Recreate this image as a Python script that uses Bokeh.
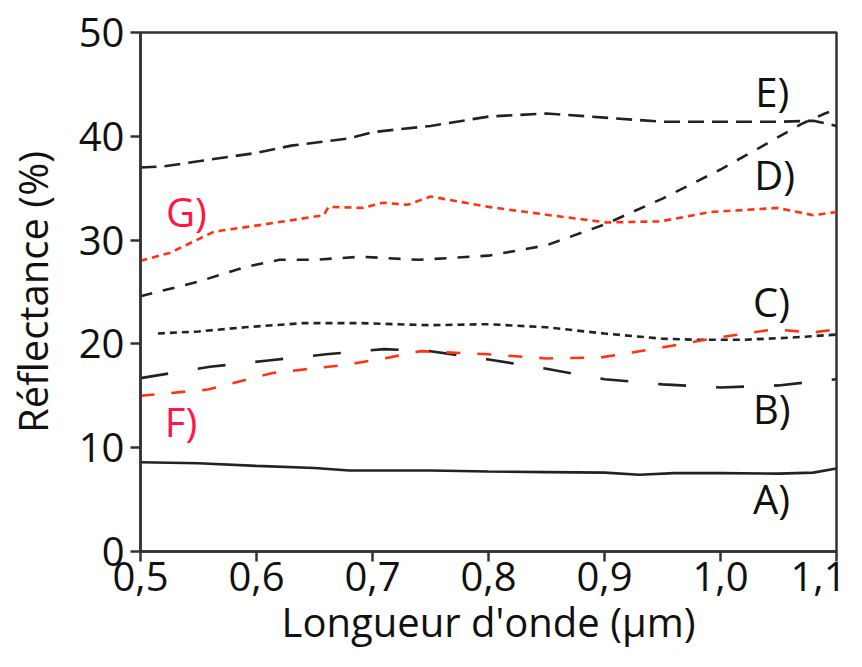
from bokeh.plotting import figure
from bokeh.models import Range1d, FixedTicker
from bokeh.core.properties import value
from bokeh.embed import file_html
from bokeh.resources import INLINE

FONT = "Open Sans"

# ---- data (wavelength in µm, reflectance in %) ----
A_x = [0.5, 0.55, 0.6, 0.65, 0.68, 0.75, 0.8, 0.85, 0.9, 0.93, 0.96, 1.0, 1.05, 1.08, 1.1]
A_y = [8.6, 8.5, 8.25, 8.05, 7.8, 7.8, 7.7, 7.65, 7.6, 7.4, 7.55, 7.55, 7.5, 7.6, 8.0]

B_x = [0.5, 0.56, 0.61, 0.66, 0.71, 0.75, 0.8, 0.85, 0.9, 0.95, 1.0, 1.05, 1.1]
B_y = [16.7, 17.8, 18.4, 19.0, 19.5, 19.3, 18.5, 17.6, 16.6, 16.1, 15.8, 16.0, 16.6]

C_x = [0.515, 0.55, 0.59, 0.64, 0.69, 0.75, 0.8, 0.85, 0.9, 0.95, 0.98, 1.02, 1.06, 1.1]
C_y = [21.0, 21.2, 21.6, 22.0, 22.0, 21.8, 21.9, 21.6, 21.0, 20.5, 20.4, 20.4, 20.6, 20.9]

D_x = [0.5, 0.55, 0.59, 0.62, 0.65, 0.69, 0.74, 0.8, 0.85, 0.9, 0.95, 1.0, 1.04, 1.07, 1.09, 1.1]
D_y = [24.6, 26.0, 27.4, 28.1, 28.1, 28.4, 28.1, 28.5, 29.5, 31.5, 34.0, 36.8, 39.3, 41.2, 42.2, 42.6]

E_x = [0.5, 0.52, 0.55, 0.6, 0.63, 0.68, 0.7, 0.75, 0.8, 0.85, 0.9, 0.95, 1.0, 1.05, 1.08, 1.1]
E_y = [37.0, 37.1, 37.6, 38.4, 39.1, 39.8, 40.4, 41.0, 41.9, 42.2, 41.8, 41.4, 41.4, 41.4, 41.5, 41.0]

F_x = [0.5, 0.558, 0.586, 0.614, 0.678, 0.715, 0.741, 0.8, 0.85, 0.897, 0.925, 0.957, 0.997, 1.046, 1.08, 1.1]
F_y = [15.0, 15.6, 16.4, 17.2, 18.0, 18.7, 19.3, 19.0, 18.6, 18.7, 19.2, 19.8, 20.6, 21.4, 21.1, 21.4]

G_x = [0.5, 0.526, 0.563, 0.606, 0.658, 0.662, 0.692, 0.709, 0.73, 0.75, 0.8, 0.853, 0.902, 0.948, 0.991, 1.049, 1.08, 1.1]
G_y = [28.0, 28.8, 30.8, 31.5, 32.4, 33.2, 33.1, 33.6, 33.4, 34.2, 33.2, 32.4, 31.7, 31.8, 32.7, 33.1, 32.4, 32.7]

x_ticks = [0.5, 0.6, 0.7, 0.8, 0.9, 1.0, 1.1]
x_tick_labels = ["0,5", "0,6", "0,7", "0,8", "0,9", "1,0", "1,1"]
y_ticks = [0, 10, 20, 30, 40, 50]

label_text = ["E)", "D)", "C)", "B)", "A)", "G)", "F)"]
label_x = [1.030, 1.029, 1.028, 1.028, 1.028, 0.522, 0.521]
label_y = [44.3, 36.3, 24.1, 13.8, 5.1, 32.8, 12.5]
label_color = ["#111111"] * 5 + ["#ff1744", "#ff1744"]

BLACK = "#222222"
RED = "#ff3311"

p = figure(width=846, height=651, output_backend="svg", toolbar_location=None,
           x_range=Range1d(0.5, 1.1), y_range=Range1d(0, 50),
           min_border_left=140, min_border_right=10, min_border_top=32,
           min_border_bottom=98)

p.xgrid.visible = False
p.ygrid.visible = False
p.outline_line_color = "#333333"
p.outline_line_width = 2.5
p.background_fill_color = "white"
p.border_fill_color = "white"

# series
p.line(A_x, A_y, line_color=BLACK, line_width=2.6)
p.line(B_x, B_y, line_color=BLACK, line_width=2.6, line_dash="28 30")
p.line(C_x, C_y, line_color=BLACK, line_width=2.6, line_dash="7 5")
p.line(D_x, D_y, line_color=BLACK, line_width=2.6, line_dash="12 11")
p.line(E_x, E_y, line_color=BLACK, line_width=2.6, line_dash="16 8")
p.line(F_x, F_y, line_color=RED, line_width=2.6, line_dash="14 17")
p.line(G_x, G_y, line_color=RED, line_width=2.6, line_dash="7 5")

p.text(x=label_x, y=label_y, text=label_text, text_color=label_color,
       text_font=value(FONT), text_font_size="40px",
       text_align="left", text_baseline="alphabetic")

# axes
for ax in (p.xaxis[0], p.yaxis[0]):
    ax.axis_line_color = "#333333"
    ax.axis_line_width = 2.5
    ax.major_tick_line_color = "#333333"
    ax.major_tick_line_width = 2.5
    ax.major_tick_out = 10
    ax.major_tick_in = 0
    ax.minor_tick_line_color = None
    ax.major_label_text_font = FONT
    ax.major_label_text_font_size = "40px"
    ax.major_label_text_color = "#111111"
    ax.axis_label_text_font = FONT
    ax.axis_label_text_font_size = "40px"
    ax.axis_label_text_font_style = "normal"
    ax.axis_label_text_color = "#111111"

p.xaxis.ticker = FixedTicker(ticks=x_ticks)
p.xaxis.major_label_overrides = {t: l for t, l in zip(x_ticks, x_tick_labels)}
p.xaxis.axis_label = "Longueur d'onde (µm)"
p.xaxis.major_label_standoff = 0
p.xaxis.axis_label_standoff = 0

p.yaxis.ticker = FixedTicker(ticks=y_ticks)
p.yaxis.axis_label = "Réflectance (%)"
p.yaxis.major_label_standoff = 6
p.yaxis.axis_label_standoff = 16

open("out.html", "w").write(file_html(p, INLINE))
